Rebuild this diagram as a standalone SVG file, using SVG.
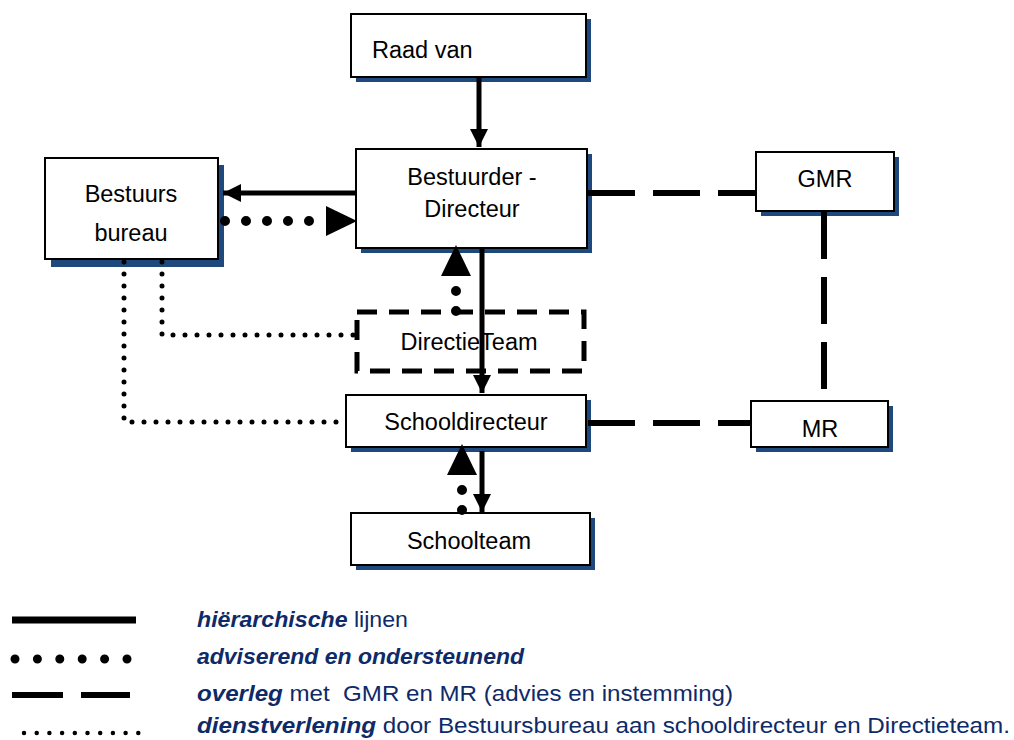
<svg xmlns="http://www.w3.org/2000/svg" width="1014" height="740" viewBox="0 0 1014 740">
<style>
.box{fill:#fff;stroke:#000;stroke-width:2}
.shadow{fill:#1F497D}
.lbl{font-family:"Liberation Sans",Arial,sans-serif;font-size:23.5px;fill:#000;text-anchor:middle}
.hier{fill:none;stroke:#000;stroke-width:5}
.adv{fill:none;stroke:#000;stroke-width:10;stroke-linecap:round}
.serv{fill:none;stroke:#000;stroke-width:5;stroke-linecap:round;stroke-dasharray:0 12}
.overleg{fill:none;stroke:#000;stroke-width:6;stroke-dasharray:47 18}
.leg{font-family:"Liberation Sans",Arial,sans-serif;font-size:22.5px;fill:#0E2A68;white-space:pre}
.b{font-weight:bold;font-style:italic}
</style>
<defs>
<marker id="ah" markerUnits="userSpaceOnUse" markerWidth="18" markerHeight="18" refX="18" refY="9" orient="auto">
<path d="M0,0 L18,9 L0,18 z" fill="#000"/>
</marker>
<marker id="big" markerUnits="userSpaceOnUse" markerWidth="31" markerHeight="30" refX="0" refY="15" orient="auto">
<path d="M0,0 L31,15 L0,30 z" fill="#000"/>
</marker>
</defs>
<rect width="1014" height="740" fill="#fff"/>

<g id="raad">
<rect class="shadow" x="356" y="19" width="235" height="63"/>
<rect class="box" x="351" y="14" width="235" height="63"/>
<text class="lbl" x="372" y="58" style="text-anchor:start">Raad van</text>
</g>
<g id="bestuurder">
<rect class="shadow" x="361" y="154" width="231" height="99"/>
<rect class="box" x="356" y="149" width="231" height="99"/>
<text class="lbl" x="472" y="185">Bestuurder -</text>
<text class="lbl" x="472" y="217">Directeur</text>
</g>
<g id="bestuursbureau">
<rect class="shadow" x="51" y="165" width="173" height="102"/>
<rect class="box" x="45" y="158" width="173" height="101"/>
<text class="lbl" x="131" y="202">Bestuurs</text>
<text class="lbl" x="131" y="241">bureau</text>
</g>
<g id="gmr">
<rect class="shadow" x="761" y="157" width="138" height="59"/>
<rect class="box" x="756" y="152" width="138" height="59"/>
<text class="lbl" x="825" y="187">GMR</text>
</g>
<g id="directieteam">
<rect x="357" y="312" width="227" height="59" fill="none" stroke="#000" stroke-width="5" stroke-dasharray="20 12"/>
<text class="lbl" x="469" y="350">DirectieTeam</text>
</g>
<g id="schooldirecteur">
<rect class="shadow" x="351" y="400" width="240" height="52"/>
<rect class="box" x="346" y="395" width="240" height="52"/>
<text class="lbl" x="466" y="430">Schooldirecteur</text>
</g>
<g id="mr">
<rect class="shadow" x="756" y="406" width="137" height="46"/>
<rect class="box" x="751" y="401" width="137" height="46"/>
<text class="lbl" x="820" y="437">MR</text>
</g>
<g id="schoolteam">
<rect class="shadow" x="356" y="518" width="239" height="52"/>
<rect class="box" x="351" y="513" width="239" height="52"/>
<text class="lbl" x="469" y="549">Schoolteam</text>
</g>

<g id="connectors">
<path class="hier" d="M479,78 L479,147" marker-end="url(#ah)"/>
<path class="hier" d="M356,193 L223,193" marker-end="url(#ah)"/>
<path class="hier" d="M482,248 L482,393" marker-end="url(#ah)"/>
<path class="hier" d="M482,451 L482,512" marker-end="url(#ah)"/>
<path class="adv" d="M225,221 L326,221" stroke-dasharray="0 21" marker-end="url(#big)"/>
<path class="adv" d="M456,311 L456,276" stroke-dasharray="0 20" marker-end="url(#big)"/>
<path class="adv" d="M462,510 L462,475" stroke-dasharray="0 20" marker-end="url(#big)"/>
<path class="serv" d="M162,262 L162,335 L355,335"/>
<path class="serv" d="M124,262 L124,422 L345,422"/>
<path class="overleg" d="M588,193 L756,193"/>
<path class="overleg" d="M824,212 L824,390"/>
<path class="overleg" d="M588,423 L751,423"/>
</g>

<g id="legend">
<line x1="12" y1="620" x2="136" y2="620" stroke="#000" stroke-width="7"/>
<line x1="15" y1="659" x2="127" y2="659" stroke="#000" stroke-width="9" stroke-linecap="round" stroke-dasharray="0 22.4"/>
<line x1="12" y1="695" x2="130" y2="695" stroke="#000" stroke-width="6" stroke-dasharray="51 18"/>
<line x1="24" y1="733" x2="139" y2="733" stroke="#000" stroke-width="4.5" stroke-linecap="round" stroke-dasharray="0 12.7"/>
<text class="leg" x="197" y="627" textLength="211" lengthAdjust="spacingAndGlyphs"><tspan class="b">hiërarchische</tspan> lijnen</text>
<text class="leg" x="197" y="664" textLength="327" lengthAdjust="spacingAndGlyphs"><tspan class="b">adviserend en ondersteunend</tspan></text>
<text class="leg" x="197" y="701" textLength="536" lengthAdjust="spacingAndGlyphs"><tspan class="b">overleg</tspan> met  GMR en MR (advies en instemming)</text>
<text class="leg" x="197" y="733" textLength="813" lengthAdjust="spacingAndGlyphs"><tspan class="b">dienstverlening</tspan> door Bestuursbureau aan schooldirecteur en Directieteam.</text>
</g>
</svg>
